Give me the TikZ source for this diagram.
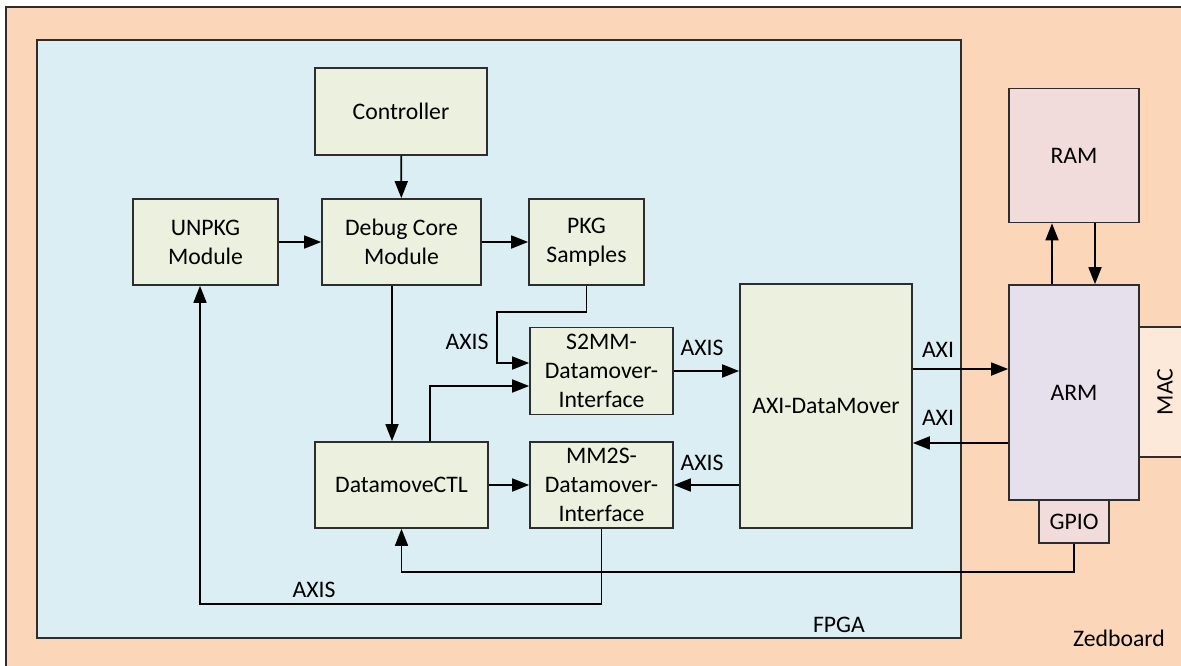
\documentclass[tikz,border=0pt]{standalone}
\usepackage{fontspec}
\setmainfont{Carlito}
\usetikzlibrary{arrows.meta}
\definecolor{BoardPeach}{RGB}{251,214,184}
\definecolor{FpgaBlue}{RGB}{219,238,243}
\definecolor{BlockGreen}{RGB}{235,241,222}
\definecolor{RamPink}{RGB}{242,220,219}
\definecolor{ArmLilac}{RGB}{229,224,236}
\definecolor{MacPeach}{RGB}{253,233,217}
\definecolor{EdgeGray}{RGB}{45,45,45}

\begin{document}
\begin{tikzpicture}[x=0.02cm, y=-0.02cm,
    every node/.style={font=\fontsize{13.5}{16.5}\selectfont},
    blk/.style={draw=EdgeGray, line width=1pt, fill=BlockGreen, align=center, inner sep=0pt},
    link/.style={draw=black, line width=1pt, -{Triangle[length=0.34cm, width=0.26cm]}}]
    \useasboundingbox (0,0) rectangle (1181,666);

    % Board and FPGA areas
    \node[draw=EdgeGray, line width=1pt, fill=BoardPeach, minimum width=23.88cm, minimum height=13.66cm] (board) at (603,348.5) {};
    \node[draw=EdgeGray, line width=1pt, fill=FpgaBlue, minimum width=18.48cm, minimum height=11.96cm] (fpga) at (499,339) {};
    \node (fpgalbl) at (839,625) {FPGA};
    \node (boardlbl) at (1119,638) {Zedboard};

    % FPGA blocks
    \node[blk, minimum width=3.44cm, minimum height=1.74cm] (ctrl) at (401,111.5) {Controller};
    \node[blk, minimum width=2.90cm, minimum height=1.72cm] (unpkg) at (205.5,242) {UNPKG\\Module};
    \node[blk, minimum width=3.18cm, minimum height=1.72cm] (dbg) at (401.5,242) {Debug Core\\Module};
    \node[blk, minimum width=2.30cm, minimum height=1.72cm] (pkg) at (586.5,242) {PKG\\Samples};
    \node[blk, minimum width=2.86cm, minimum height=1.74cm] (s2mm) at (601.5,371) {S2MM-\\Datamover-\\Interface};
    \node[blk, minimum width=2.86cm, minimum height=1.72cm] (mm2s) at (601.5,485) {MM2S-\\Datamover-\\Interface};
    \node[blk, minimum width=3.46cm, minimum height=1.72cm] (dmctl) at (401.5,485) {DatamoveCTL};
    \node[blk, minimum width=3.44cm, minimum height=4.88cm] (adm) at (826,406) {AXI-DataMover};

    % Processing system
    \node[blk, fill=RamPink, minimum width=2.60cm, minimum height=2.68cm] (ram) at (1074,155.5) {RAM};
    \node[blk, fill=ArmLilac, minimum width=2.60cm, minimum height=4.30cm] (arm) at (1074,392.5) {ARM};
    \node[blk, fill=MacPeach, minimum width=1.04cm, minimum height=2.60cm] (mac) at (1165,392) {\rotatebox{90}{MAC}};
    \node[blk, fill=RamPink, minimum width=1.40cm, minimum height=0.86cm] (gpio) at (1074,521.5) {GPIO};

    % Links
    \draw[link] (ctrl) -- (dbg);
    \draw[link] (unpkg) -- (dbg);
    \draw[link] (dbg) -- (pkg);
    \draw[link] ([xshift=-0.19cm]dbg.south) -- ([xshift=-0.19cm]dbg.south |- dmctl.north);
    \coordinate (pkgbend) at (497,312);
    \draw[link] (pkg.south) |- (pkgbend) |- ([yshift=0.16cm]s2mm.west);
    \draw[link] ([xshift=0.57cm]dmctl.north) |- ([yshift=-0.30cm]s2mm.west);
    \draw[link] (dmctl) -- (mm2s);
    \draw[link] (s2mm.east) -- (s2mm.east -| adm.west);
    \draw[link] (mm2s -| adm.west) -- (mm2s);
    \coordinate (armin) at ([yshift=0.47cm]arm.west);
    \coordinate (armout) at ([yshift=-1.01cm]arm.west);
    \draw[link] (armin -| adm.east) -- (armin);
    \draw[link] (armout) -- (armout -| adm.east);
    \draw[link] ([xshift=-0.44cm]arm.north) -- ([xshift=-0.44cm]ram.south);
    \draw[link] ([xshift=0.42cm]ram.south) -- ([xshift=0.42cm]arm.north);
    \draw[link] (gpio.south) -- ++(0,-0.56cm) -| (dmctl.south);
    \draw[link] (mm2s.south) -- ++(0,-1.5cm) -| ([xshift=-0.11cm]unpkg.south);

    % Link labels
    \node (lblpkg) at (467,342) {AXIS};
    \node (lbls2mm) at (702,348) {AXIS};
    \node (lblmm2s) at (702,463) {AXIS};
    \node (lblaxiout) at (938,350) {AXI};
    \node (lblaxiin) at (938,418) {AXI};
    \node (lblunpkg) at (314,590) {AXIS};
\end{tikzpicture}
\end{document}
